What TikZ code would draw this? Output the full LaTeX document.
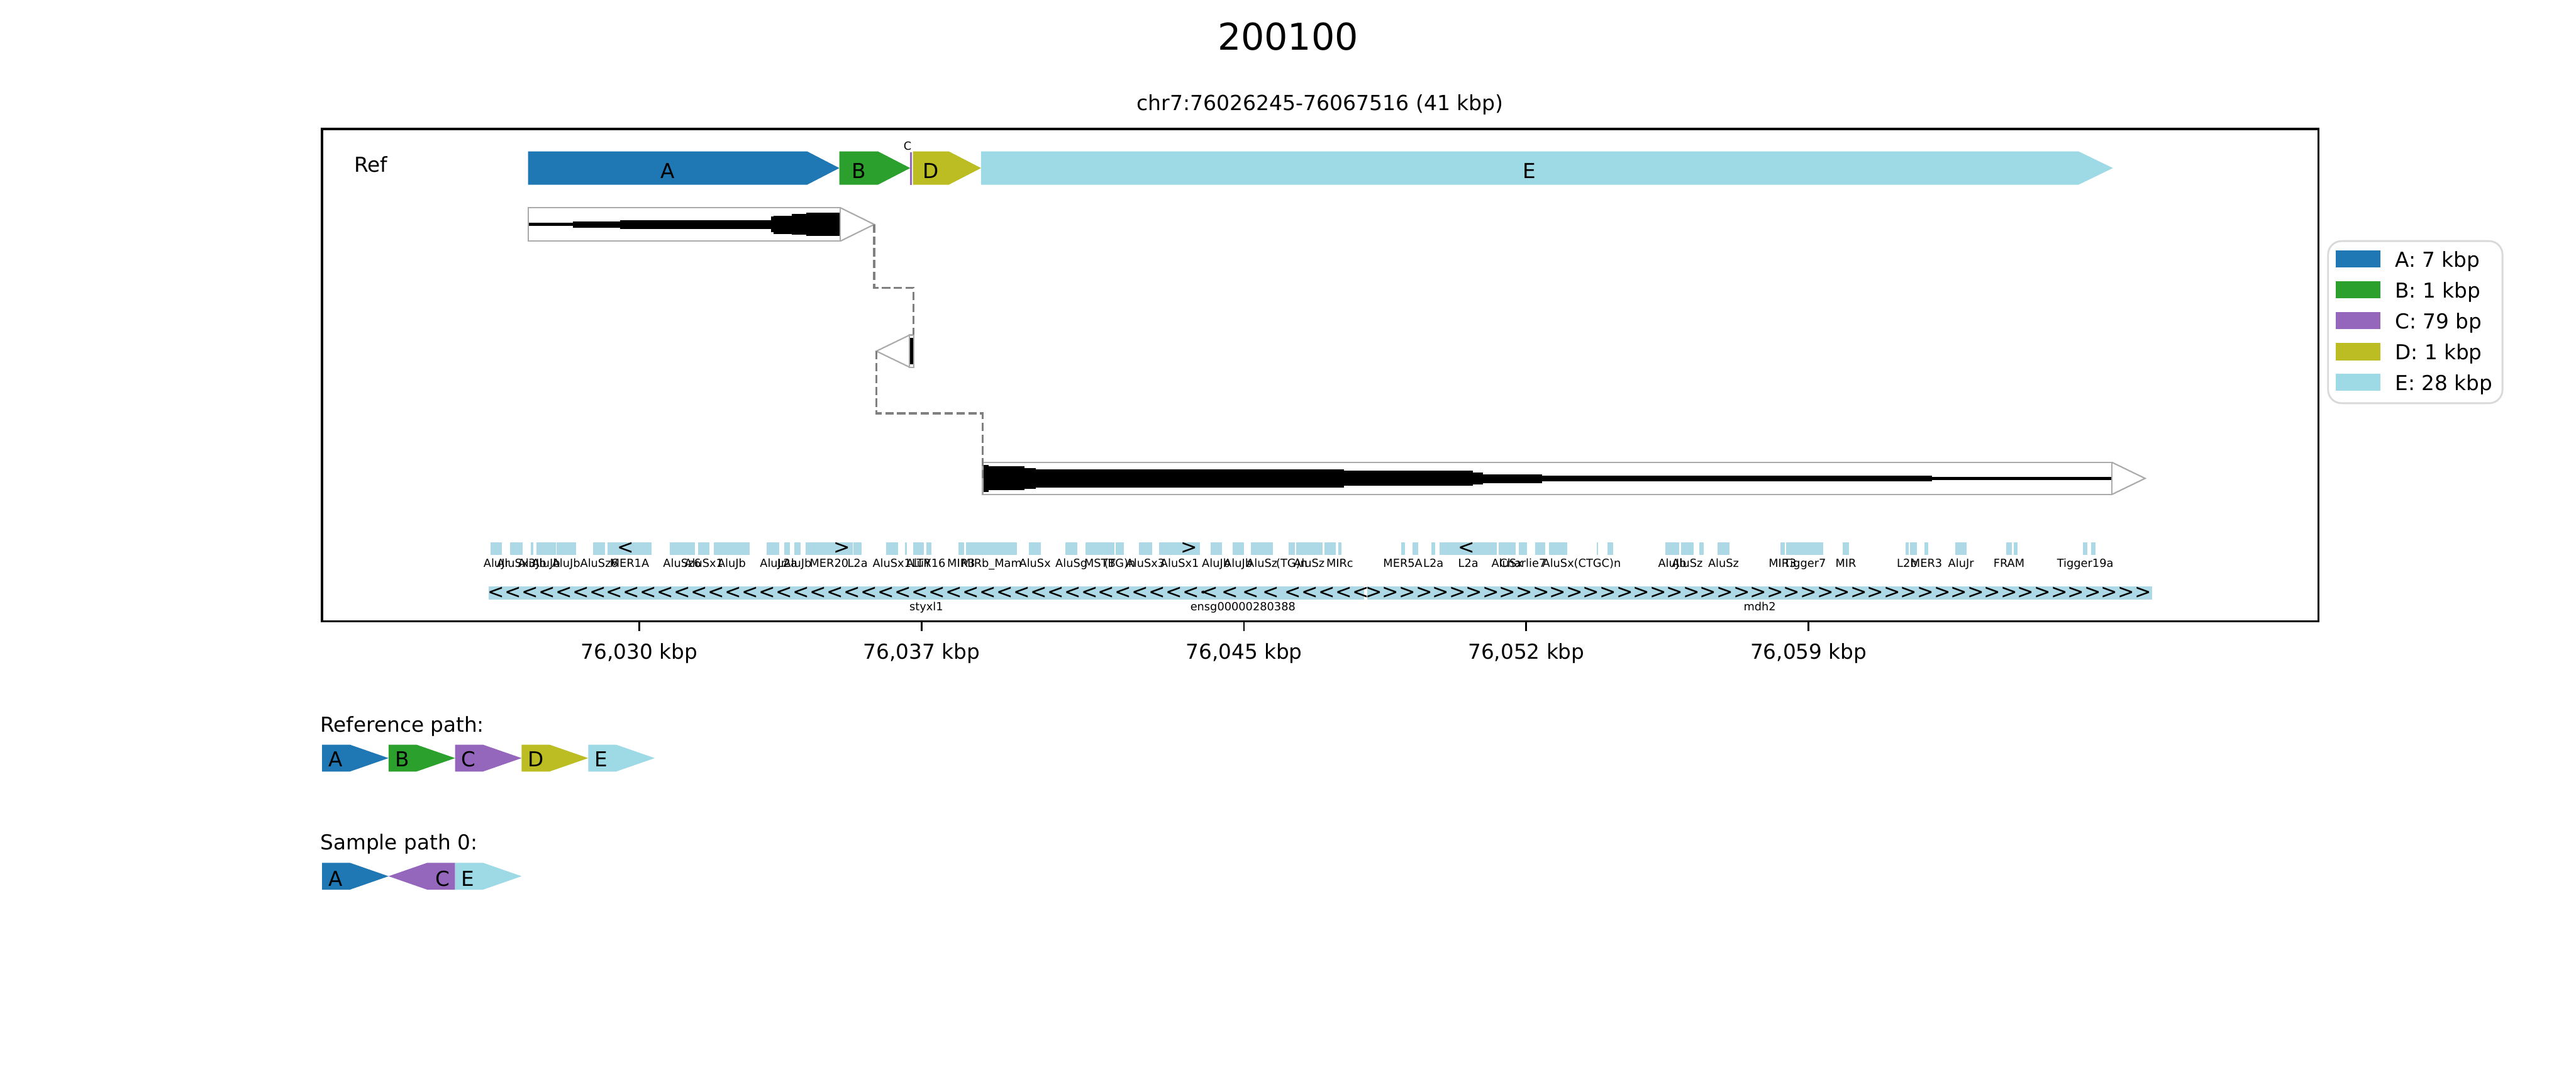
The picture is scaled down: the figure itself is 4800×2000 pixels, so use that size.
\documentclass[tikz,border=0pt]{standalone}
\usepackage{fontspec}
\setmainfont{DejaVu Sans}
\newfontfamily\chevfont{DejaVu Sans}[Ligatures=TeXOff]
\definecolor{segA}{HTML}{1F77B4}
\definecolor{segB}{HTML}{2CA02C}
\definecolor{segC}{HTML}{9467BD}
\definecolor{segD}{HTML}{BCBD22}
\definecolor{segE}{HTML}{9EDAE5}
\definecolor{repc}{HTML}{ADD8E6}
\definecolor{gline}{HTML}{AAAAAA}
\definecolor{dline}{HTML}{808080}
\definecolor{legline}{HTML}{D9D9D9}
\newcommand\fsz[1]{\fontsize{#1}{#1}\selectfont}
\newcommand\fwd[6]{\fill[#1] (#2,#5) -- (#3,#5) -- (#4,{(#5+#6)/2}) -- (#3,#6) -- (#2,#6) -- cycle;}
\newcommand\rev[6]{\fill[#1] (#2,{(#5+#6)/2}) -- (#3,#5) -- (#4,#5) -- (#4,#6) -- (#3,#6) -- cycle;}
\begin{document}
\begin{tikzpicture}[x=0.24pt,y=-0.24pt,
  txt/.style={inner sep=0pt,outer sep=0pt,anchor=base,font=\fsz{9.2}},
  seglbl/.style={inner sep=0pt,outer sep=0pt,anchor=base,font=\fsz{9.2}},
  small/.style={inner sep=0pt,outer sep=0pt,anchor=base,font=\fsz{5}},
  chev/.style={inner sep=0pt,outer sep=0pt,anchor=center,font=\chevfont\fsz{8.9}},
  rep/.style={fill=repc,draw=white,line width=0.3pt},
  gout/.style={draw=gline,line width=0.6pt},
  conn/.style={draw=dline,line width=1pt,dash pattern=on 3.7pt off 1.6pt},
  tickl/.style={line width=0.8pt}]
\useasboundingbox[fill=white] (0,0) rectangle (4800,2000);

% titles
\node[txt,font=\fsz{16.5}] (title) at (2400,93) {200100};
\node[txt,font=\fsz{9.3}] (sub) at (2460,206) {chr7:76026245-76067516 (41 kbp)};

% reference segments
\node[txt,anchor=base west] (ref) at (660,320) {Ref};
\fwd{segA}{984}{1504}{1564}{282}{344}
\fwd{segB}{1564}{1636}{1696}{282}{344}
\fill[segC] (1695.5,284) rectangle (1699,344);
\fwd{segD}{1701}{1768}{1828}{282}{344}
\fwd{segE}{1828}{3873}{3937}{282}{344}
\node[seglbl] (la) at (1244,332) {A};
\node[seglbl] (lb) at (1600,332) {B};
\node[small] (lc) at (1691,279) {C};
\node[seglbl] (ld) at (1734,332) {D};
\node[seglbl] (le) at (2850,332) {E};

% gene 1
\foreach \a/\b/\t/\u in {984/1067/415/421,1067/1156/413/424,1156/1437/410/427,1437/1441/403/432,1441/1475/402/436,1475/1502/399/437,1502/1566/396/440}
  \fill[black] (\a,\t) rectangle (\b,\u);
\draw[gout] (984,387) rectangle (1566,449);
\draw[gout] (1566,387) -- (1629,418) -- (1566,449);
\coordinate (g1tip) at (1629,418);

% gene 2 (reverse, small)
\fill[black] (1696,629) rectangle (1702,679);
\draw[gout] (1695,624) rectangle (1703,684);
\draw[gout] (1695,624) -- (1633,654) -- (1695,684);
\coordinate (g2top) at (1702,624);
\coordinate (g2tip) at (1633,654);

% gene 3
\foreach \a/\b/\t/\u in {1831/1842/866/916,1842/1909/868/913,1909/1930/872/911,1930/2504/874/908,2504/2744/877/905,2744/2763/880/902,2763/2873/883/900,2873/3600/886/897,3600/3936/888/894}
  \fill[black] (\a,\t) rectangle (\b,\u);
\draw[gout] (1831,861) rectangle (3935,921);
\draw[gout] (3935,861) -- (3997,891) -- (3935,921);
\coordinate (g3start) at (1831,891);

% connectors
\draw[conn] (g1tip) -- (g1tip |- 0,536) -- (g2top |- 0,536) -- (g2top);
\draw[conn] (g2tip) -- (g2tip |- 0,770) -- (g3start |- 0,770) -- (g3start);

% repeats
\foreach \a/\b/\t in {914/936/AluJr,950/974/AluSx3,989/994/AluJb,999/1036/AluJb,1036/1074/AluJb,1105/1128/AluSz6,1131/1215/MER1A,1247/1295/AluSz6,1300/1323/AluSx1,1329/1398/AluJb,1428/1452/AluJr,1461/1473/L2a,1480/1492/AluJb,1500/1590/MER20,1590/1606/L2a,1650/1674/AluSx1,1701/1722/AluY,1725/1736/LTR16,1785/1797/MIR3,1799/1896/MIRb\_Mam,1917/1940/AluSx,1985/2008/AluSg,2022/2077/MSTB,2078/2095/(TG)n,2122/2147/AluSx3,2159/2237/AluSx1,2255/2277/AluJb,2296/2318/AluJb,2330/2373/AluSz,2400/2414/(TG)n,2414/2465/AluSz,2493/2500/MIRc,2610/2618/MER5A,2667/2675/L2a,2682/2790/L2a,2792/2825/AluSx,2829/2846/Charlie7,2886/2921/AluSx,2975/2978/(CTGC)n,3103/3129/AluJb,3132/3156/AluSz,3200/3223/AluSz,3317/3326/MIR3,3328/3398/Tigger7,3433/3446/MIR,3550/3557/L2b,3585/3594/MER3,3643/3665/AluJr,3738/3749/FRAM,3881/3890/Tigger19a}
{
  \fill[rep] (\a,1009) rectangle (\b,1034);
  \node[small] (rl\a) at ({(\a+\b)/2},1057) {\t};
}
\foreach \a/\b in {1686/1690,2467/2490,2631/2643,2860/2880,2995/3007,3166/3175,3558/3572,3752/3760,3896/3905}
  \fill[rep] (\a,1009) rectangle (\b,1034);
\node[chev] (rc1) at (1166,1021.5) {<};
\node[chev] (rc2) at (1569,1021.5) {>};
\node[chev] (rc3) at (2216,1021.5) {>};
\node[chev] (rc4) at (2733,1021.5) {<};

% genes
\fill[repc] (910,1092) rectangle (2542,1117);
\foreach \i in {0,...,51} \node[chev] (cs\i) at ({924+31.6*\i},1104.5) {<};
\fill[repc] (2243,1092) rectangle (2392,1117);
\foreach \i in {0,...,3} \node[chev] (ce\i) at ({2254+38*\i},1104.5) {<};
\fill[repc] (2548,1092) rectangle (4010,1117);
\foreach \i in {0,...,46} \node[chev] (cm\i) at ({2560+31.15*\i},1104.5) {>};
\node[small] (gs) at (1726,1137) {styxl1};
\node[small] (ge) at (2316,1137) {ensg00000280388};
\node[small] (gm) at (3279,1137) {mdh2};

% axes frame
\draw[line width=1pt] (600,240) rectangle (4320,1157);
\foreach \x/\t in {1191/{76,030 kbp},1717/{76,037 kbp},2318/{76,045 kbp},2844/{76,052 kbp},3370/{76,059 kbp}}
{
  \draw[tickl] (\x,1157) -- (\x,1175);
  \node[txt] (t\x) at (\x,1227) {\t};
}

% legend
\draw[legline,line width=0.8pt,fill=white,rounded corners=6] (4338,449) rectangle (4663,751);
\foreach \c/\t/\y in {segA/A: 7 kbp/482,segB/B: 1 kbp/540,segC/C: 79 bp/597,segD/D: 1 kbp/655,segE/E: 28 kbp/712}
{
  \fill[\c] (4352,\y-16) rectangle (4436,\y+16);
  \node[txt,anchor=base west] (lg\c) at (4463,\y+15) {\t};
}

% paths
\node[txt,anchor=base west] (rph) at (597,1363) {Reference path:};
\foreach \c/\l [count=\k from 0] in {segA/A,segB/B,segC/C,segD/D,segE/E}
{
  \fwd{\c}{600+124*\k}{652+124*\k}{724+124*\k}{1387}{1437}
  \node[txt,anchor=base west] (rp\l) at (612+124*\k,1428) {\l};
}
\node[txt,anchor=base west] (sph) at (597,1583) {Sample path 0:};
\fwd{segA}{600}{652}{724}{1607}{1657}
\rev{segC}{724}{796}{848}{1607}{1657}
\fwd{segE}{848}{900}{972}{1607}{1657}
\node[txt,anchor=base west] (spA) at (612,1650) {A};
\node[txt,anchor=base east] (spC) at (838,1650) {C};
\node[txt,anchor=base west] (spE) at (860,1650) {E};
\end{tikzpicture}
\end{document}
